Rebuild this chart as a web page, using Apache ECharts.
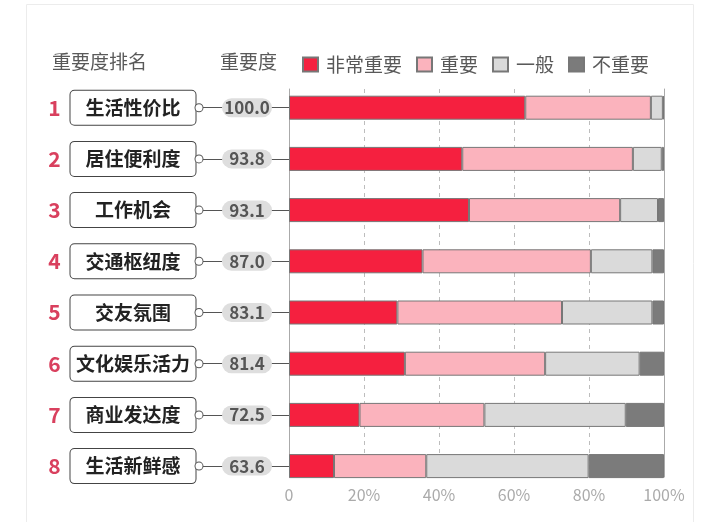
<!DOCTYPE html>
<html>
<head>
<meta charset="utf-8">
<title>重要度排名</title>
<script src="https://cdn.jsdelivr.net/npm/echarts@6.0.0/dist/echarts.min.js"></script>
<style>
	html, body { margin: 0; padding: 0; background: #fff; }
	#main { width: 720px; height: 522px; }
</style>
</head>
<body>
<div id="main"></div>
<script>
var categories = [ '生活性价比', '居住便利度', '工作机会', '交通枢纽度', '交友氛围', '文化娱乐活力', '商业发达度', '生活新鲜感' ];
var scores = [ 100.0, 93.8, 93.1, 87.0, 83.1, 81.4, 72.5, 63.6 ];
var veryImportant = [ 63.0, 46.2, 48.0, 35.6, 28.9, 30.9, 18.8, 12.0 ];
var important = [ 33.5, 45.5, 40.3, 44.9, 43.9, 37.4, 33.3, 24.6 ];
var normal = [ 3.2, 7.7, 10.1, 16.4, 24.1, 25.2, 37.7, 43.3 ];
var notImportant = [ 0.3, 0.6, 1.6, 3.1, 3.1, 6.5, 10.2, 20.1 ];
var seriesNames = [ '非常重要', '重要', '一般', '不重要' ];
var seriesColors = [ '#f5203f', '#fbb3bd', '#dadada', '#7b7b7b' ];
var xTicks = [ 0, 20, 40, 60, 80, 100 ];

var font = '"Noto Sans CJK SC", "Noto Sans", sans-serif';
var chart = echarts.init(document.getElementById('main'));

function makeBar(idx, data) {
	return {
		name : seriesNames[idx],
		type : 'bar',
		stack : 'total',
		xAxisIndex : 0,
		yAxisIndex : 0,
		barWidth : 24,
		data : data,
		itemStyle : {
			color : seriesColors[idx],
			borderColor : '#777',
			borderWidth : 1
		}
	};
}

function rowLabel(value, index) {
	return '{rank|' + (index + 1) + '}{sp| }{box|' + value + '}{dot| }{ln| }{pill|'
			+ scores[index].toFixed(1) + '}';
}

var option = {
	textStyle : { fontFamily : font },
	animation : false,
	graphic : [ {
		type : 'rect',
		shape : { x : 26.5, y : 4.5, width : 667, height : 540 },
		style : { fill : 'none', stroke : '#ececec', lineWidth : 1 },
		z : -10
	} ],
	title : [ {
		text : '重要度排名',
		left : 47,
		top : 47,
		textStyle : { fontSize : 19, fontWeight : 'normal', color : '#595959', fontFamily : font }
	}, {
		text : '重要度',
		left : 215,
		top : 47,
		textStyle : { fontSize : 19, fontWeight : 'normal', color : '#595959', fontFamily : font }
	} ],
	legend : {
		left : 297,
		top : 50,
		icon : 'rect',
		itemWidth : 15,
		itemHeight : 14,
		itemGap : 14,
		data : seriesNames,
		textStyle : { fontSize : 19, color : '#595959', padding : [ 0, 0, 0, 3 ], fontFamily : font }
	},
	grid : [ {
		left : 289,
		width : 375,
		top : 82.1,
		height : 409.6,
		outerBoundsMode : 'none'
	}, {
		left : 289,
		width : 375,
		top : 89,
		height : 388,
		outerBoundsMode : 'none'
	} ],
	xAxis : [ {
		gridIndex : 0,
		type : 'value',
		min : 0,
		max : 100,
		show : false
	}, {
		gridIndex : 1,
		type : 'value',
		min : xTicks[0],
		max : xTicks[xTicks.length - 1],
		interval : 20,
		axisLine : { show : false },
		axisTick : { show : false },
		axisLabel : {
			margin : 10,
			fontSize : 16,
			color : '#aaa',
			fontFamily : font,
			formatter : function(v) {
				return v === 0 ? '0' : v + '%';
			}
		},
		splitLine : {
			show : true,
			lineStyle : { color : '#bdbdbd', type : [ 4, 4 ], width : 1 }
		}
	} ],
	yAxis : [ {
		gridIndex : 0,
		type : 'category',
		inverse : true,
		data : categories,
		axisLine : { show : false },
		axisTick : {
			show : true,
			alignWithLabel : true,
			length : 215,
			lineStyle : { color : '#555', width : 1 }
		},
		splitLine : { show : false },
		axisLabel : {
			margin : 17,
			formatter : rowLabel,
			rich : {
				rank : { width : 20, align : 'center', fontSize : 21, fontWeight : 'bold', color : '#d9405e', fontFamily : font },
				sp : { width : 6 },
				box : {
					width : 125,
					height : 34,
					align : 'center',
					fontSize : 19,
					fontWeight : 'bold',
					color : '#222',
					fontFamily : font,
					backgroundColor : '#fff',
					borderColor : '#444',
					borderWidth : 1,
					borderRadius : 4
				},
				dot : {
					width : 7,
					height : 7,
					fontSize : 4,
					backgroundColor : '#fff',
					borderColor : '#555',
					borderWidth : 1,
					borderRadius : 4
				},
				ln : { width : 19.5 },
				pill : {
					width : 50,
					height : 19,
					align : 'center',
					fontSize : 17,
					fontWeight : 'bold',
					color : '#555',
					fontFamily : font,
					backgroundColor : '#dedede',
					borderRadius : 10
				}
			}
		}
	}, {
		gridIndex : 1,
		type : 'value',
		position : 'left',
		axisLine : { show : true, lineStyle : { color : '#aaa', width : 1 } },
		axisTick : { show : false },
		axisLabel : { show : false },
		splitLine : { show : false }
	}, {
		gridIndex : 1,
		type : 'value',
		position : 'right',
		axisLine : { show : true, lineStyle : { color : '#aaa', width : 1 } },
		axisTick : { show : false },
		axisLabel : { show : false },
		splitLine : { show : false }
	} ],
	series : [ makeBar(0, veryImportant), makeBar(1, important), makeBar(2, normal),
			makeBar(3, notImportant) ]
};

chart.setOption(option);
window.onresize = chart.resize;
</script>
</body>
</html>
